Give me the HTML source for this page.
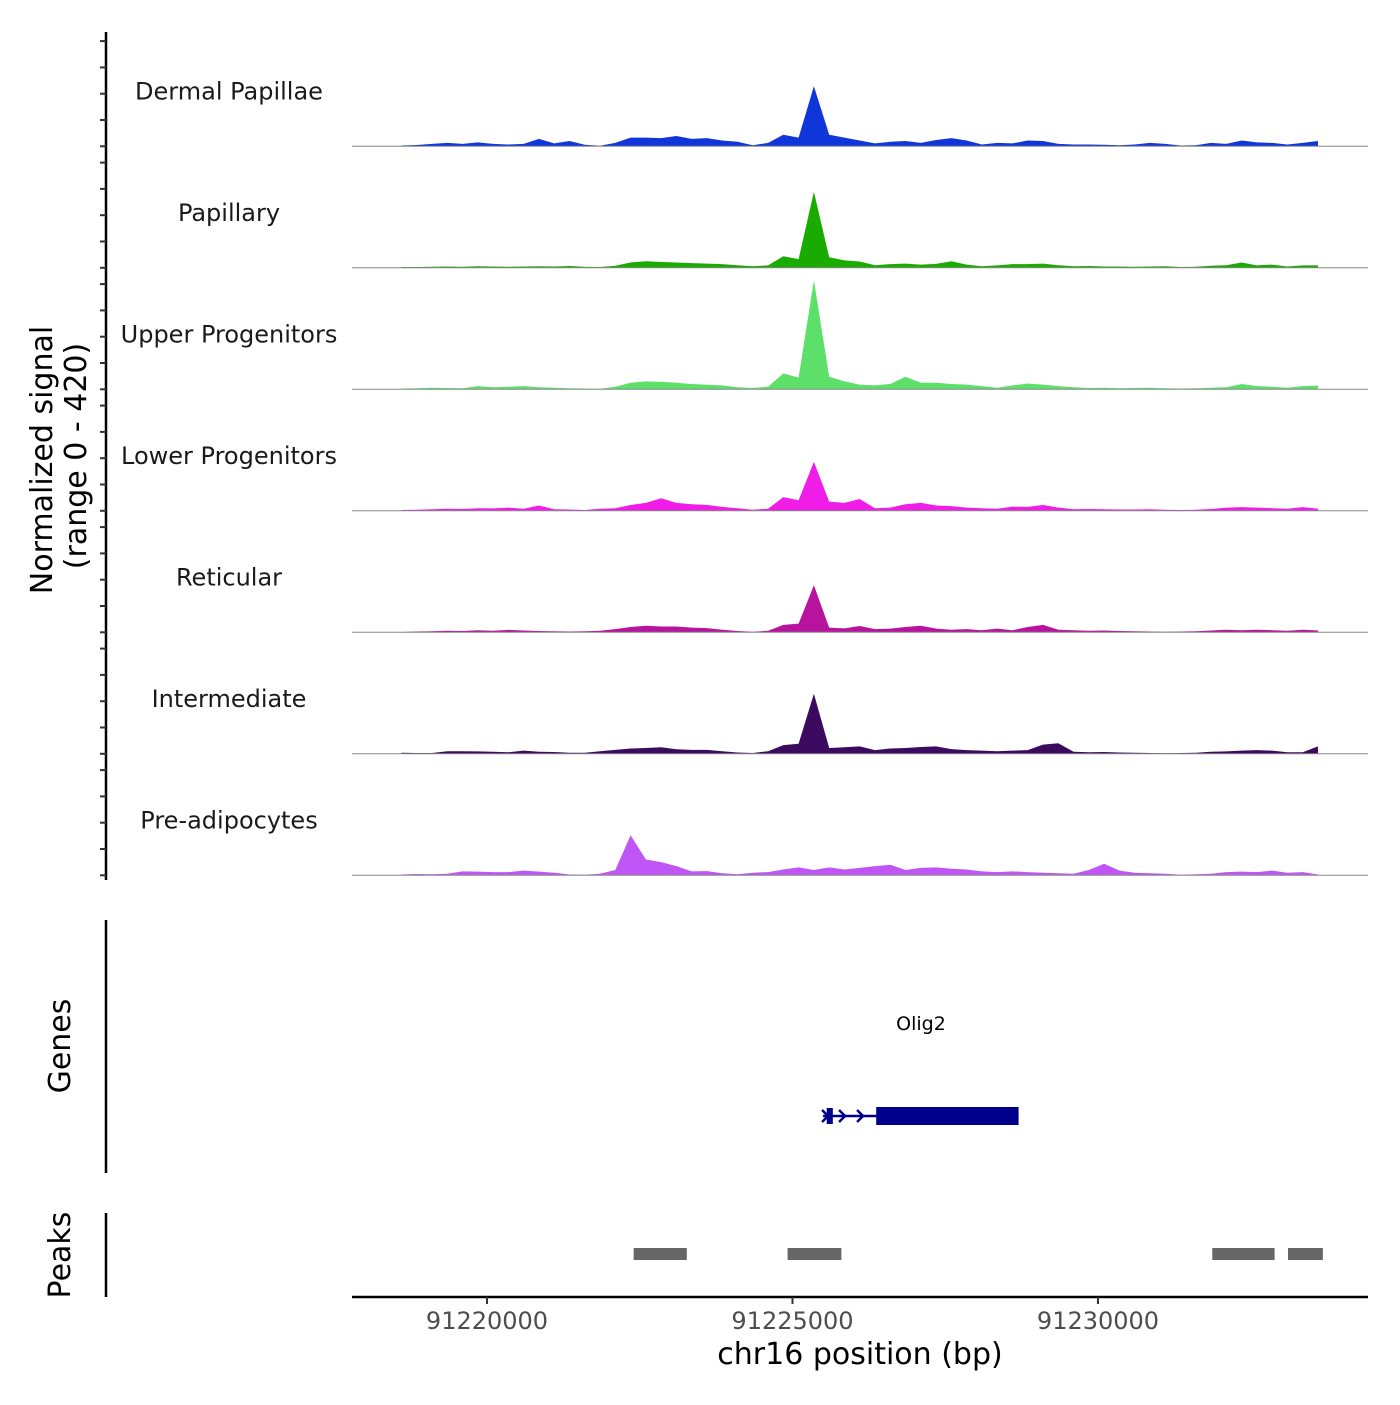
<!DOCTYPE html>
<html><head><meta charset="utf-8"><style>
body{margin:0;background:#fff;}
svg text{font-family:"DejaVu Sans","Liberation Sans",sans-serif;}
</style></head><body>
<svg id="chart" width="1400" height="1400" viewBox="0 0 1400 1400" xmlns="http://www.w3.org/2000/svg">
<g id="tracks"></g>
<g id="genes"></g>
<g id="peaks"></g>
<g id="xaxis"></g>
<text transform="translate(52,460) rotate(-90)" text-anchor="middle" font-size="30" fill="#000">Normalized signal</text>
<text transform="translate(86,456) rotate(-90)" text-anchor="middle" font-size="30" fill="#000">(range 0 - 420)</text>
<text transform="translate(70,1046) rotate(-90)" text-anchor="middle" font-size="30" fill="#000">Genes</text>
<text transform="translate(70,1255) rotate(-90)" text-anchor="middle" font-size="30" fill="#000">Peaks</text>
<text x="860" y="1364" text-anchor="middle" font-size="30" fill="#000">chr16 position (bp)</text>
</svg>
<script>
const trackNames = ["Dermal Papillae","Papillary","Upper Progenitors","Lower Progenitors","Reticular","Intermediate","Pre-adipocytes"];
const trackColors = ["#1035d9","#1aab00","#5ce06a","#f01de8","#b8139e","#3b0a5e","#c055f5"];
const binStart = 91218600;
const binStep = 250;
const dermal = [3,5,9,13,9,15,9,7,9,28,11,20,6,2,13,33,33,31,39,28,31,22,17,4,13,44,33,228,44,33,22,11,17,20,13,24,31,22,7,13,11,22,20,9,7,7,6,4,7,13,9,3,4,13,9,22,15,13,7,13,20];
const papillary = [3,3,4,5,4,6,5,4,5,6,5,7,4,3,8,20,25,22,20,18,16,14,10,6,9,44,33,289,40,28,24,10,14,16,12,15,25,12,6,9,14,14,16,10,6,7,5,5,4,5,6,3,4,8,10,20,9,12,5,9,9];
const upper = [3,4,6,5,4,12,8,10,12,8,6,4,3,2,10,25,30,28,25,20,17,15,8,5,10,60,45,414,48,30,18,15,20,48,25,25,20,18,12,6,15,22,18,12,8,5,6,4,5,6,4,3,4,6,8,20,12,10,6,12,14];
const lower = [3,4,6,8,7,10,9,12,8,20,6,5,3,8,10,22,30,48,30,25,22,15,10,4,8,52,40,186,35,30,45,10,12,25,30,20,18,12,10,8,16,15,22,12,6,7,6,5,5,6,4,3,4,7,12,14,12,10,8,14,8];
const reticular = [1,3,4,6,5,8,6,9,7,5,4,3,4,6,12,20,25,22,22,18,16,10,5,2,6,28,33,179,18,15,24,12,14,20,25,14,10,12,8,14,8,20,28,10,8,6,7,5,4,3,2,3,4,7,10,8,10,8,6,10,7];
const intermediate = [4,3,3,10,10,9,8,6,12,8,7,4,4,10,15,20,22,25,17,15,15,10,5,3,10,33,38,228,22,25,28,14,20,22,26,28,18,14,12,10,12,14,35,40,8,6,7,5,4,3,2,3,4,8,9,12,14,12,6,6,28];
const preadipo = [3,5,4,6,15,14,12,12,18,14,10,3,2,6,20,152,60,50,35,15,16,8,4,10,12,22,30,20,30,22,28,35,40,20,28,30,25,22,15,12,15,12,10,8,6,20,44,18,10,8,6,2,4,6,12,14,12,18,10,12,3];
const trackValues = [dermal,papillary,upper,lower,reticular,intermediate,preadipo];
const yTicks = [0,100,200,300,400];
const xTicks = [91220000,91225000,91230000];
const xTickLabels = ["91220000","91225000","91230000"];
const peakStarts = [91222400,91224920,91231870,91233110];
const peakEnds = [91223270,91225800,91232890,91233680];
const geneName = "Olig2";
const geneStart = 91225500;
const geneCdsStart = 91226370;
const geneEnd = 91228700;
const exon1Start = 91225560;
const exon1End = 91225660;

const NS="http://www.w3.org/2000/svg";
function mk(tag,attrs,parent){const e=document.createElementNS(NS,tag);for(const k in attrs)e.setAttribute(k,attrs[k]);parent.appendChild(e);return e;}
const X = bp => 487 + (bp-91220000)*(305.5/5000);
const trackBase = i => 146.3 + i*121.5;
const Y = (i,v) => trackBase(i) - v*0.263;

const tg=document.getElementById('tracks');
let ax=mk('line',{x1:106,y1:32,x2:106,y2:880,stroke:'#000','stroke-width':2.5},tg);


trackNames.forEach((name,i)=>{
  const vals=trackValues[i];
  let d='M'+X(binStart).toFixed(1)+','+trackBase(i).toFixed(1);
  vals.forEach((v,j)=>{d+=' L'+X(binStart+j*binStep).toFixed(1)+','+Y(i,v).toFixed(1);});
  d+=' L'+X(binStart+(vals.length-1)*binStep).toFixed(1)+','+trackBase(i).toFixed(1)+' Z';
  const p=mk('path',{d:d,fill:trackColors[i],stroke:'none'},tg);
  
  
  const bl=mk('line',{x1:352,y1:trackBase(i),x2:1368,y2:trackBase(i),stroke:'#888','stroke-width':1},tg);
  
  
  const t=mk('text',{x:229,y:trackBase(i)-47,'text-anchor':'middle','font-size':24,fill:'#1a1a1a'},tg);
  t.textContent=name;
  
  
  yTicks.forEach(tv=>{
    const tk=mk('line',{x1:100,y1:Y(i,tv),x2:106,y2:Y(i,tv),stroke:'#333','stroke-width':2},tg);
    
    
  });
});

const gg=document.getElementById('genes');
let gl=mk('line',{x1:106,y1:920,x2:106,y2:1173,stroke:'#000','stroke-width':2.5},gg);


let gline=mk('line',{x1:X(geneStart),y1:1116,x2:X(geneEnd),y2:1116,stroke:'#00008b','stroke-width':2.5},gg);


let cds=mk('rect',{x:X(geneCdsStart),y:1107,width:X(geneEnd)-X(geneCdsStart),height:18,fill:'#00008b'},gg);


let ex1=mk('rect',{x:X(exon1Start),y:1108,width:X(exon1End)-X(exon1Start),height:16,fill:'#00008b'},gg);


[X(geneStart)+3,X(geneStart)+20,X(geneStart)+38].forEach(ax0=>{
  const ar=mk('path',{d:`M${ax0-4},1110 L${ax0+2},1116 L${ax0-4},1122`,fill:'none',stroke:'#00008b','stroke-width':2.5},gg);
  
  
});
let gt=mk('text',{x:921,y:1030,'text-anchor':'middle','font-size':19,fill:'#000'},gg);
gt.textContent=geneName;



const pg=document.getElementById('peaks');
let pl=mk('line',{x1:106,y1:1213,x2:106,y2:1297,stroke:'#000','stroke-width':2.5},pg);


peakStarts.forEach((s,i)=>{
  const r=mk('rect',{x:X(s),y:1248,width:X(peakEnds[i])-X(s),height:12,fill:'#666'},pg);
  
  
});

const xg=document.getElementById('xaxis');
let xl=mk('line',{x1:352,y1:1297,x2:1368,y2:1297,stroke:'#000','stroke-width':2.5},xg);


xTicks.forEach((v,i)=>{
  const tk=mk('line',{x1:X(v),y1:1297,x2:X(v),y2:1304,stroke:'#333','stroke-width':2},xg);
  
  
  const t=mk('text',{x:X(v),y:1329,'text-anchor':'middle','font-size':24,fill:'#4d4d4d'},xg);
  t.textContent=xTickLabels[i];
  
  
});
</script>
</body></html>
